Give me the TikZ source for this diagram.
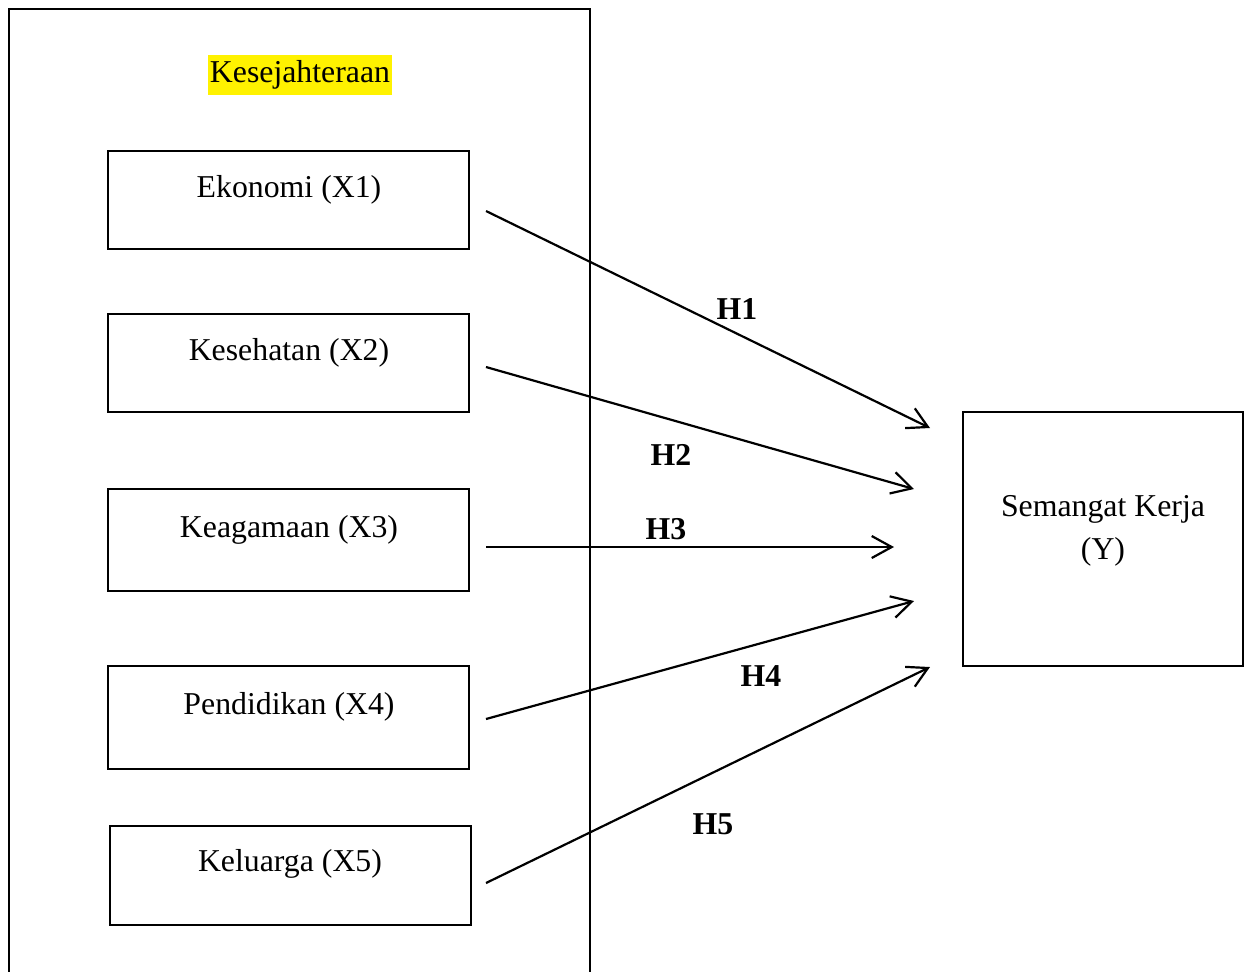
\documentclass[tikz,border=0pt]{standalone}
\usepackage{fontspec}
\setmainfont{Liberation Serif}
\usetikzlibrary{arrows.meta}
\begin{document}
\begin{tikzpicture}[x=0.5pt,y=-0.5pt,
  every node/.style={font=\fontsize{15.9}{21.5}\selectfont, inner sep=0pt},
  box/.style={draw, line width=1pt, minimum width=180.5pt},
  txt/.style={},
  hlab/.style={font=\fontsize{15.9}{21.5}\selectfont\bfseries},
  conn/.style={line width=1.1pt, -{Straight Barb[length=10pt,width=11pt,line width=1.1pt]}}]
\useasboundingbox (0,0) rectangle (1251,971);
\node[draw, line width=1pt, minimum width=290.5pt, minimum height=500pt] (outer) at (299.5,509) {};
\node[fill=yellow, inner xsep=1pt, inner ysep=3pt] (title) at (300,75) {Kesejahteraan};
\node[box, minimum height=49pt] (x1) at (288.5,200) {};
\node[txt] (t1) at (289,190) {Ekonomi (X1)};
\node[box, minimum height=49pt] (x2) at (288.5,363) {};
\node[txt] (t2) at (289,353) {Kesehatan (X2)};
\node[box, minimum height=51pt] (x3) at (288.5,540) {};
\node[txt] (t3) at (289,530) {Keagamaan (X3)};
\node[box, minimum height=51.5pt] (x4) at (288.5,717.5) {};
\node[txt] (t4) at (289,707) {Pendidikan (X4)};
\node[box, minimum height=49.5pt] (x5) at (290.5,875.5) {};
\node[txt] (t5) at (290,864) {Keluarga (X5)};
\node[draw, line width=1pt, minimum width=140pt, minimum height=127pt] (y) at (1103,539) {};
\node[align=center] (ty) at (1103,531) {Semangat Kerja\\(Y)};
\coordinate (s1) at (486,211);
\coordinate (e1) at (930,428);
\coordinate (s2) at (486,367);
\coordinate (e2) at (914,489);
\coordinate (s3) at (486,547);
\coordinate (e3) at (894,547);
\coordinate (s4) at (486,719);
\coordinate (e4) at (914,601);
\coordinate (s5) at (486,883);
\coordinate (e5) at (930,667);
\draw[conn] (s1) -- (e1);
\draw[conn] (s2) -- (e2);
\draw[conn] (s3) -- (e3);
\draw[conn] (s4) -- (e4);
\draw[conn] (s5) -- (e5);
\node[hlab] (h1) at (737,309) {H1};
\node[hlab] (h2) at (671,455) {H2};
\node[hlab] (h3) at (666,529) {H3};
\node[hlab] (h4) at (761,676) {H4};
\node[hlab] (h5) at (713,824) {H5};
\end{tikzpicture}
\end{document}
